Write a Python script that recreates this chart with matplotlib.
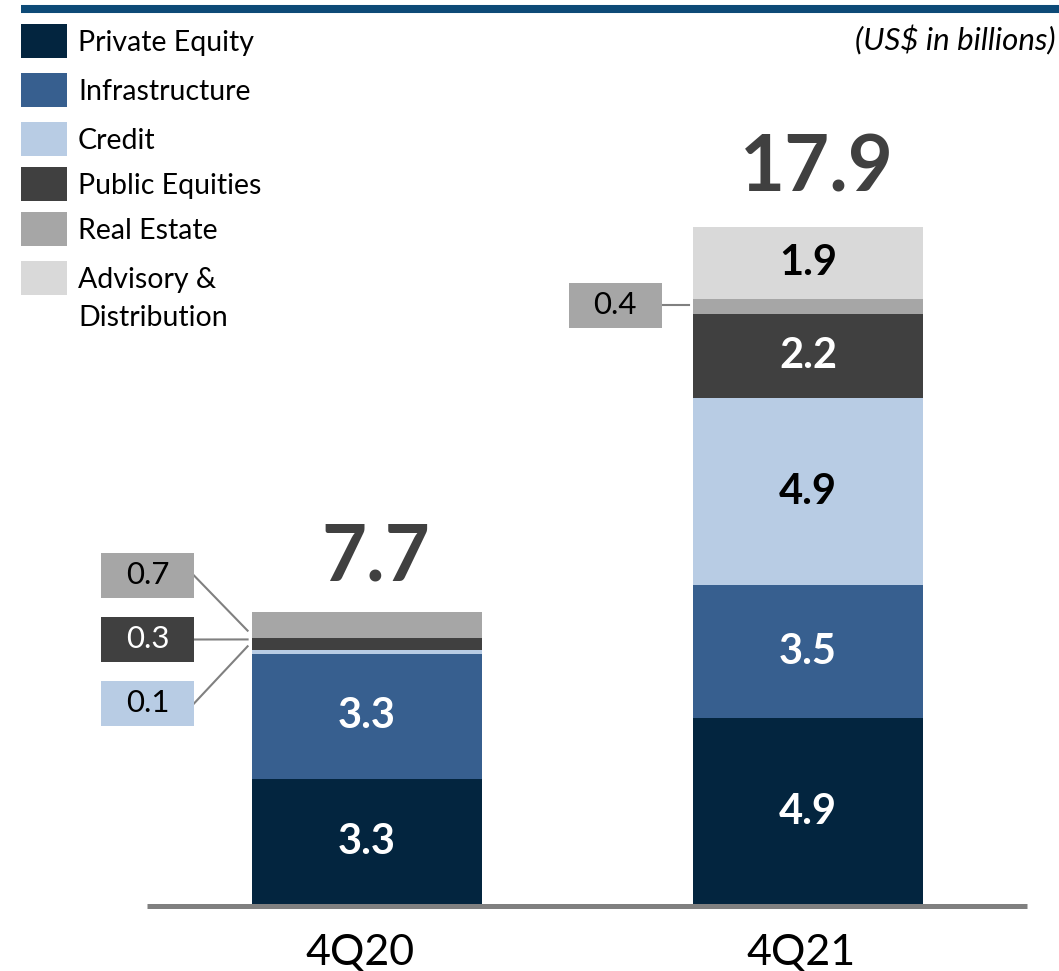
import matplotlib
matplotlib.use('Agg')
import matplotlib.pyplot as plt
from matplotlib.patches import Rectangle
from matplotlib.lines import Line2D

plt.rcParams['font.family'] = ['Lato', 'DejaVu Sans']

# data (US$ billions)
periods = ["4Q20", "4Q21"]
segments = ["Private Equity", "Infrastructure", "Credit", "Public Equities",
            "Real Estate", "Advisory &\nDistribution"]
values = {
    "4Q20": [3.3, 3.3, 0.1, 0.3, 0.7, 0.0],
    "4Q21": [4.9, 3.5, 4.9, 2.2, 0.4, 1.9],
}
totals = [7.7, 17.9]

colors = ["#03253F", "#375F8F", "#B8CCE4", "#404040", "#A6A6A6", "#D9D9D9"]
inner_text = ["white", "white", "black", "white", "black", "black"]

W, H = 1059, 971
fig = plt.figure(figsize=(W / 100, H / 100), dpi=100)

# axes fills the figure; x unit = bar spacing, y unit = US$ 1bn
x0_px, spacing_px, bar_px = 367, 441, 230
base_px, scale_px = 905, 38.1
ax = fig.add_axes([0, 0, 1, 1])
ax.set_xlim(-x0_px / spacing_px, (W - x0_px) / spacing_px)
ax.set_ylim(-(H - base_px) / scale_px, base_px / scale_px)
ax.axis('off')


def fx(px):
    return (px - x0_px) / spacing_px


def fy(py):
    return (base_px - py) / scale_px


width = bar_px / spacing_px
xs = list(range(len(periods)))
bottoms = [0.0] * len(periods)
for i, seg in enumerate(segments):
    vals = [values[p][i] for p in periods]
    ax.bar(xs, vals, width=width, bottom=bottoms, color=colors[i], linewidth=0, zorder=2)
    for j, v in enumerate(vals):
        if v >= 1.0:
            ax.text(xs[j], bottoms[j] + v / 2, f"{v:.1f}", ha='center', va='center',
                    fontsize=30, fontweight='bold', color=inner_text[i], zorder=3)
    bottoms = [b + v for b, v in zip(bottoms, vals)]

# totals above bars
for j, t in enumerate(totals):
    ax.text(xs[j] + 0.02, t + 0.82, f"{t:.1f}", ha='center', va='baseline',
            fontsize=56, fontweight='bold', color="#404040")

# call-out boxes for small segments: (period, segment index, box centre px, target y)
callouts = [
    (0, 4, (147.5, 575.5), 7.2),
    (0, 3, (147.5, 639.5), 6.97),
    (0, 2, (147.5, 703.5), 6.79),
    (1, 4, (615, 305), None),
]
box_w, box_h = 93 / spacing_px, 45 / scale_px
for j, si, (cx, cy), ty in callouts:
    v = values[periods[j]][si]
    bx, by = fx(cx), fy(cy)
    ax.add_patch(Rectangle((bx - box_w / 2, by - box_h / 2), box_w, box_h,
                           facecolor=colors[si], edgecolor='none', zorder=3))
    txt_col = 'white' if si == 3 else 'black'
    ax.text(bx, by, f"{v:.1f}", ha='center', va='center', fontsize=22.5,
            color=txt_col, zorder=4)
    bar_left = xs[j] - width / 2
    if ty is None:
        ty = by
    ax.plot([bx + box_w / 2, bar_left - 0.01], [by, ty], color="#808080",
            linewidth=1.5, zorder=1)

# baseline
ax.plot([fx(147), fx(1027)], [fy(905.5), fy(905.5)], color="#808080",
        linewidth=3.6, solid_capstyle='butt', zorder=4)

# category labels
for j, p in enumerate(periods):
    ax.text(xs[j] - 0.015, fy(934), p, ha='center', va='top', fontsize=31, color='black')

# top rule
fig.add_artist(Line2D([21 / W, 1.0], [1 - 9 / H, 1 - 9 / H], color="#0D4A77",
                      linewidth=5.8, solid_capstyle='butt'))

# unit note
fig.text(1056 / W, 1 - 40 / H, "(US$ in billions)", ha='right', va='center',
         fontsize=22.5, style='italic', color='black')

# legend
leg_tops = [24, 73, 122, 167, 212, 261]
for seg, col, top in zip(segments, colors, leg_tops):
    fig.add_artist(Rectangle((21 / W, 1 - (top + 34) / H), 46 / W, 34 / H,
                             facecolor=col, edgecolor='none', transform=fig.transFigure))
    lines = seg.split("\n")
    for k, line in enumerate(lines):
        fig.text(78 / W, 1 - (top + 19 + 38 * k) / H, line, ha='left', va='center',
                 fontsize=20.5, color='black')

fig.savefig("out.png", dpi=100)
